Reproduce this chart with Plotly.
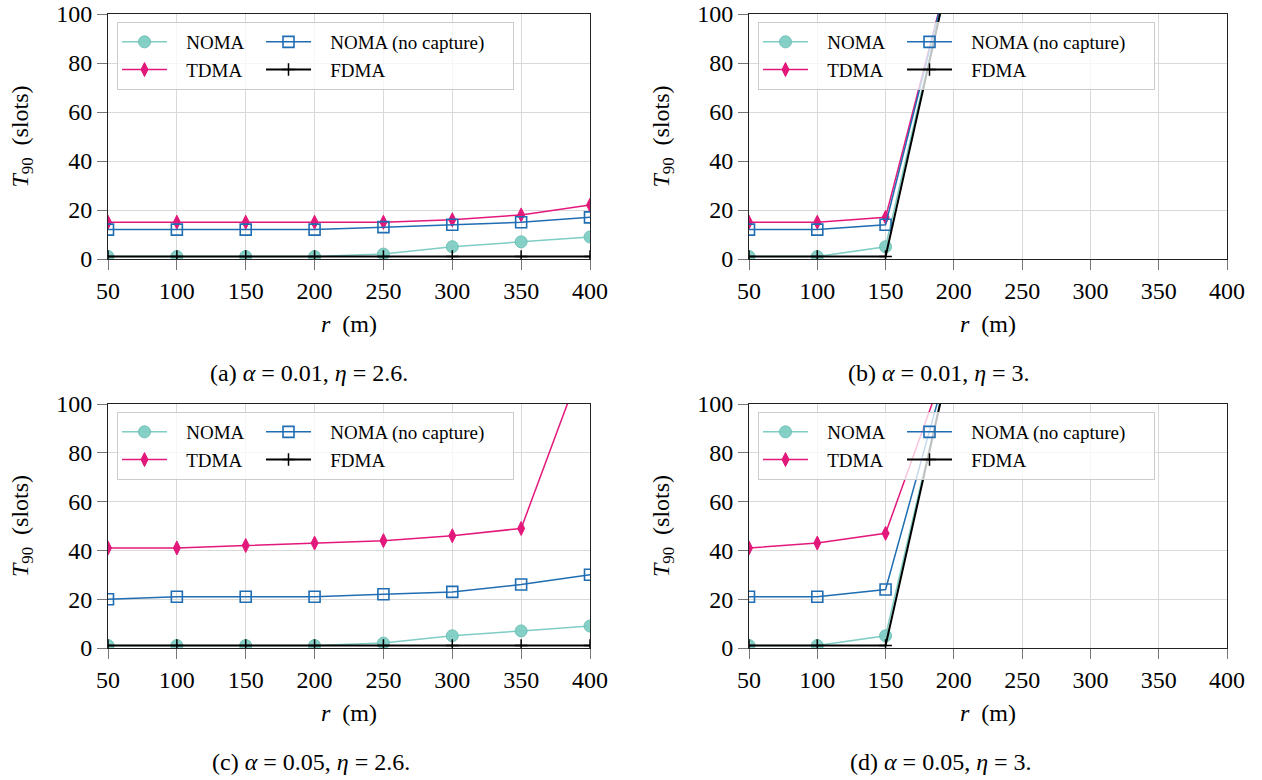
import plotly.graph_objects as go

# ---------------- data ----------------
r_values = [50, 100, 150, 200, 250, 300, 350, 400]
x_ticks = [50, 100, 150, 200, 250, 300, 350, 400]
y_ticks = [0, 20, 40, 60, 80, 100]

series_names = ["NOMA", "TDMA", "NOMA (no capture)", "FDMA"]

# (a) alpha = 0.01, eta = 2.6
a_noma = [1, 1, 1, 1, 2, 5, 7, 9]
a_tdma = [15, 15, 15, 15, 15, 16, 18, 22]
a_noma_nc = [12, 12, 12, 12, 13, 14, 15, 17]
a_fdma = [1, 1, 1, 1, 1, 1, 1, 1]

# (b) alpha = 0.01, eta = 3  (values beyond 150 m are off the chart)
b_noma = [1, 1, 5, 125, 125, 125, 125, 125]
b_tdma = [15, 15, 17, 125, 125, 125, 125, 125]
b_noma_nc = [12, 12, 14, 125, 125, 125, 125, 125]
b_fdma = [1, 1, 1, 125, 125, 125, 125, 125]

# (c) alpha = 0.05, eta = 2.6
c_noma = [1, 1, 1, 1, 2, 5, 7, 9]
c_tdma = [41, 41, 42, 43, 44, 46, 49, 125]
c_noma_nc = [20, 21, 21, 21, 22, 23, 26, 30]
c_fdma = [1, 1, 1, 1, 1, 1, 1, 1]

# (d) alpha = 0.05, eta = 3
d_noma = [1, 1, 5, 125, 125, 125, 125, 125]
d_tdma = [41, 43, 47, 125, 125, 125, 125, 125]
d_noma_nc = [21, 21, 24, 125, 125, 125, 125, 125]
d_fdma = [1, 1, 1, 125, 125, 125, 125, 125]

captions = [
    "(a) <i>α</i> = 0.01, <i>η</i> = 2.6.",
    "(b) <i>α</i> = 0.01, <i>η</i> = 3.",
    "(c) <i>α</i> = 0.05, <i>η</i> = 2.6.",
    "(d) <i>α</i> = 0.05, <i>η</i> = 3.",
]
x_title = "<i>r</i>\u00a0 (m)"
y_title = "<i>T</i><sub>90</sub>\u00a0 (slots)"

panels = [
    (a_noma, a_tdma, a_noma_nc, a_fdma),
    (b_noma, b_tdma, b_noma_nc, b_fdma),
    (c_noma, c_tdma, c_noma_nc, c_fdma),
    (d_noma, d_tdma, d_noma_nc, d_fdma),
]

# ---------------- styling ----------------
W, H = 1262, 780
FONT = "Liberation Serif"
TEAL = "#7fcdc4"
PINK = "#e3187b"
BLUE = "#1f6db3"
BLACK = "#000000"

styles = {
    "NOMA": dict(line=dict(color=TEAL, width=1.5),
                 marker=dict(symbol="circle", size=12, color="rgba(127,205,196,0.95)",
                             line=dict(color="#6fc2b8", width=1))),
    "TDMA": dict(line=dict(color=PINK, width=1.5),
                 marker=dict(symbol="diamond-tall", size=10, color=PINK,
                             line=dict(color=PINK, width=1))),
    "NOMA (no capture)": dict(line=dict(color=BLUE, width=1.5),
                              marker=dict(symbol="square-open", size=11, color=BLUE,
                                          line=dict(color=BLUE, width=1.6))),
    "FDMA": dict(line=dict(color=BLACK, width=2),
                 marker=dict(symbol="cross-thin", size=9, color=BLACK,
                             line=dict(color=BLACK, width=1.5))),
}
col_groups = {"NOMA": "c1", "TDMA": "c1", "NOMA (no capture)": "c2", "FDMA": "c2"}
col_widths = {"c1": 84, "c2": 192}

# panel boxes in pixels: (left, right, top, bottom)
boxes = [
    (108, 590, 14, 259),
    (749, 1227, 14, 259),
    (108, 590, 404, 648),
    (749, 1227, 404, 648),
]
caption_pos = [(309, 373), (939, 373), (311, 762), (941, 762)]

fig = go.Figure()
layout = dict(
    width=W, height=H,
    margin=dict(l=0, r=0, t=0, b=0, autoexpand=False),
    paper_bgcolor="white", plot_bgcolor="white",
    font=dict(family=FONT, size=24, color="black"),
    showlegend=True,
    annotations=[],
)

for i, (vals, box) in enumerate(zip(panels, boxes)):
    n = "" if i == 0 else str(i + 1)
    xa, ya = "x" + n, "y" + n
    leg = "legend" + n
    order = ["NOMA", "TDMA", "NOMA (no capture)", "FDMA"]
    data_map = dict(zip(series_names, vals))
    for name in order:
        st = styles[name]
        g = col_groups[name]
        fig.add_trace(go.Scatter(
            x=r_values, y=data_map[name], mode="lines+markers",
            name="\u00a0\u00a0\u00a0" + name,
            line=st["line"], marker=st["marker"],
            xaxis=xa, yaxis=ya, legend=leg,
            legendgroup=f"p{i}{g}", legendwidth=col_widths[g],
        ))
    L, R, T, B = box
    axis_common = dict(
        showgrid=True, gridcolor="#d9d9d9", gridwidth=1,
        showline=True, linecolor="#222222", linewidth=1, mirror=True,
        ticks="outside", ticklen=10, tickcolor="#777777", tickwidth=1,
        tickfont=dict(family=FONT, size=24, color="black"),
        zeroline=False, fixedrange=True, automargin=False,
    )
    layout["xaxis" + n] = dict(
        axis_common, domain=[L / W, R / W], anchor=ya,
        range=[50, 400], tickvals=x_ticks, ticktext=[str(v) for v in x_ticks],
        title=dict(text=x_title, standoff=12, font=dict(family=FONT, size=24)),
    )
    layout["yaxis" + n] = dict(
        axis_common, domain=[1 - B / H, 1 - T / H], anchor=xa,
        range=[0, 100], tickvals=y_ticks, ticktext=[str(v) for v in y_ticks],
        title=dict(text=y_title, standoff=20, font=dict(family=FONT, size=24)),
    )
    layout[leg] = dict(
        x=(L + 9) / W, y=1 - (T + 8) / H, xanchor="left", yanchor="top",
        xref="paper", yref="paper",
        orientation="h", traceorder="grouped", tracegroupgap=8,
        itemwidth=45,
        bgcolor="rgba(255,255,255,0.75)", bordercolor="#cccccc", borderwidth=1,
        font=dict(family=FONT, size=19, color="black"),
    )
    cx, cy = caption_pos[i]
    layout["annotations"].append(dict(
        text=captions[i], x=cx / W, y=1 - cy / H, xref="paper", yref="paper",
        xanchor="center", yanchor="middle", showarrow=False,
        font=dict(family=FONT, size=24, color="black"),
    ))

fig.update_layout(**layout)
fig.write_html("out.html")
